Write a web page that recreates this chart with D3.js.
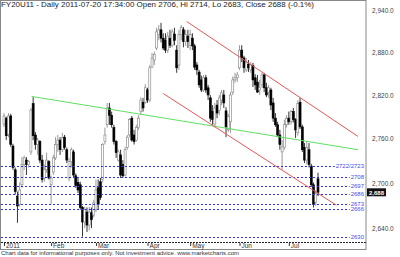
<!DOCTYPE html>
<html>
<head>
<meta charset="utf-8">
<script src="https://cdn.jsdelivr.net/npm/d3@7"></script>
<style>
  body { margin: 0; background: #fff; }
  svg { display: block; font-family: "Liberation Sans", Arial, sans-serif; }
</style>
</head>
<body>
<div id="chart"></div>
<script>
// Daily OHLC, 2011-01-03 .. 2011-07-20 (one entry per trading day)
const open = [
  2780,2788,2766,2791,2750,2718,2683,2672,2698,2725,
  2731,2725,2742,2808,2765,2752,2756,2731,2707,2718,
  2729,2698,2715,2734,2752,2758,2745,2762,2745,2707,
  2729,2742,2710,2701,2698,2668,2649,2662,2645,2661,
  2658,2665,2694,2702,2705,2756,2779,2802,2792,2775,
  2756,2731,2738,2725,2711,2748,2765,2788,2765,2758,
  2775,2797,2810,2810,2827,2813,2859,2869,2886,2905,
  2912,2900,2897,2883,2900,2890,2906,2883,2862,2905,
  2912,2895,2903,2890,2900,2889,2862,2852,2841,2827,
  2844,2830,2816,2797,2780,2806,2799,2813,2820,2798,
  2772,2783,2824,2841,2844,2858,2883,2872,2855,2863,
  2855,2861,2844,2838,2827,2834,2848,2830,2824,2827,
  2809,2788,2779,2765,2742,2748,2779,2788,2783,2797,
  2786,2768,2810,2776,2748,2731,2745,2723,2698,2675,
  2706
];
const high = [
  2795,2790,2795,2794,2753,2721,2689,2701,2735,2737,
  2735,2731,2802,2817,2769,2761,2758,2738,2725,2741,
  2731,2710,2738,2762,2765,2762,2768,2765,2748,2734,
  2748,2745,2713,2707,2702,2670,2669,2668,2669,2668,
  2678,2705,2705,2707,2754,2775,2809,2809,2797,2779,
  2758,2745,2745,2731,2749,2765,2788,2791,2772,2779,
  2792,2817,2816,2835,2830,2862,2879,2881,2915,2919,
  2922,2907,2907,2909,2912,2913,2915,2890,2912,2919,
  2916,2912,2912,2912,2907,2892,2866,2855,2847,2848,
  2848,2834,2820,2806,2809,2813,2820,2827,2827,2803,
  2794,2824,2846,2851,2852,2890,2890,2875,2872,2869,
  2866,2865,2849,2848,2841,2851,2851,2837,2834,2830,
  2816,2795,2783,2772,2758,2786,2792,2797,2799,2802,
  2788,2813,2816,2779,2754,2756,2754,2726,2701,2691,
  2714
];
const low = [
  2776,2758,2762,2749,2718,2685,2648,2669,2694,2718,
  2711,2721,2738,2758,2745,2738,2727,2701,2702,2714,
  2705,2672,2711,2731,2742,2738,2742,2745,2727,2703,
  2721,2707,2694,2687,2665,2630,2641,2636,2638,2641,
  2655,2662,2665,2678,2701,2752,2775,2779,2775,2752,
  2734,2729,2707,2707,2709,2745,2762,2756,2752,2756,
  2772,2792,2797,2808,2809,2810,2858,2862,2883,2897,
  2894,2883,2879,2879,2886,2887,2890,2851,2855,2897,
  2887,2889,2886,2883,2883,2855,2848,2830,2824,2824,
  2823,2813,2783,2779,2775,2788,2792,2806,2802,2762,
  2769,2768,2820,2837,2838,2855,2866,2851,2852,2852,
  2851,2831,2827,2823,2820,2830,2824,2817,2816,2799,
  2783,2776,2762,2745,2718,2745,2775,2779,2779,2782,
  2761,2764,2773,2742,2727,2725,2721,2695,2668,2670,
  2683
];
const close = [
  2791,2764,2791,2752,2721,2689,2670,2691,2725,2734,
  2725,2729,2799,2764,2752,2758,2731,2705,2718,2731,
  2707,2707,2734,2752,2758,2745,2761,2748,2731,2729,
  2745,2711,2697,2691,2668,2649,2665,2645,2662,2652,
  2674,2691,2672,2681,2752,2765,2802,2792,2779,2756,
  2741,2742,2711,2710,2745,2762,2786,2758,2756,2775,
  2788,2813,2802,2830,2813,2858,2872,2877,2909,2912,
  2900,2886,2883,2903,2890,2909,2897,2858,2905,2915,
  2895,2905,2895,2905,2889,2859,2855,2834,2827,2844,
  2827,2820,2788,2786,2802,2795,2816,2823,2809,2776,
  2790,2820,2841,2844,2848,2883,2872,2858,2865,2858,
  2862,2841,2834,2824,2830,2848,2830,2820,2830,2806,
  2788,2779,2765,2752,2749,2779,2788,2783,2797,2786,
  2772,2808,2776,2745,2731,2748,2725,2698,2672,2686,
  2688
];

// month starts (index of first trading day) and their labels
const monthIdx = [0, 21, 41, 64, 83, 105, 127];
const monthLabels = ['2011', 'Feb', 'Mar', 'Apr', 'May', 'Jun', 'Jul'];

// right axis ticks
const priceTicks = [2640, 2700, 2760, 2820, 2880, 2940];

// horizontal support levels
const levels = [2723, 2708, 2697, 2686, 2673, 2666, 2630];
const levelLabels = ['2722/2723', '2708', '2697', '2686', '2673', '2666', '2630'];

// trend lines: [index, price] endpoints
const greenLine = [[12.3, 2818], [157.8, 2745]];
const redUpper = [[81.4, 2924], [157.8, 2763]];
const redLower = [[71.0, 2822], [148.2, 2671]];

const lastPrice = 2688;
const title = 'FY20U11 - Daily 2011-07-20 17:34:00 Open 2706, Hi 2714, Lo 2683, Close 2688 (-0.1%)';
const footer = 'Chart data for informational purposes only. Not investment advice. www.marketcharts.com';

const width = 400, height = 257;
const plotLeft = 1, plotRight = 366, plotBottom = 242;

const svg = d3.select('#chart')
  .append('svg')
  .attr('width', width)
  .attr('height', height);

// Scales
const x = d3.scaleLinear().domain([0, 140]).range([4, 318]);
const y = d3.scaleLog().domain([2623, 2942]).range([plotBottom, 9]);

// Frame
svg.append('rect')
  .attr('x', 0.5).attr('y', 0.5)
  .attr('width', plotRight - 0.5).attr('height', 249)
  .attr('fill', 'none')
  .attr('stroke', '#888');

svg.append('line')
  .attr('x1', plotLeft).attr('x2', plotRight)
  .attr('y1', plotBottom + 0.5).attr('y2', plotBottom + 0.5)
  .attr('stroke', '#223')
  .attr('stroke-dasharray', '2,1');

// Candles
const data = close.map((c, i) => ({ i, o: open[i], h: high[i], l: low[i], c }));
const up = d => d.c >= d.o;

const candles = svg.append('g')
  .selectAll('g')
  .data(data)
  .join('g');

candles.append('line')
  .attr('x1', d => x(d.i)).attr('x2', d => x(d.i))
  .attr('y1', d => y(d.h)).attr('y2', d => y(d.l))
  .attr('stroke', d => up(d) ? '#808080' : '#000')
  .attr('stroke-width', 0.8);

candles.append('rect')
  .attr('x', d => x(d.i) - 1)
  .attr('width', 2)
  .attr('y', d => y(Math.max(d.o, d.c)))
  .attr('height', d => Math.max(0.8, y(Math.min(d.o, d.c)) - y(Math.max(d.o, d.c))))
  .attr('fill', d => up(d) ? '#fff' : '#000')
  .attr('stroke', d => up(d) ? '#808080' : '#000')
  .attr('stroke-width', 0.6);

// Levels
const lv = svg.append('g')
  .selectAll('g')
  .data(levels)
  .join('g');

const lvText = lv.append('text')
  .attr('x', plotRight - 2)
  .attr('y', d => y(d) + 2)
  .attr('text-anchor', 'end')
  .attr('font-size', 6)
  .attr('fill', '#4b4bdc')
  .text((d, k) => levelLabels[k]);

lv.insert('line', 'text')
  .attr('x1', plotLeft)
  .attr('x2', function(d, k) { return plotRight - 3 - lvText.nodes()[k].getComputedTextLength(); })
  .attr('y1', d => Math.round(y(d)) + 0.5)
  .attr('y2', d => Math.round(y(d)) + 0.5)
  .attr('stroke', '#3434c8')
  .attr('stroke-width', 1)
  .attr('stroke-dasharray', '2,2');

// Trend lines
const trend = d3.line().x(d => x(d[0])).y(d => y(d[1]));
svg.append('path').attr('d', trend(greenLine))
  .attr('fill', 'none').attr('stroke', '#5fe05f').attr('stroke-width', 1);
svg.append('path').attr('d', trend(redUpper))
  .attr('fill', 'none').attr('stroke', '#e05a5a').attr('stroke-width', 1);
svg.append('path').attr('d', trend(redLower))
  .attr('fill', 'none').attr('stroke', '#e05a5a').attr('stroke-width', 1);

// Axes
const xAxis = d3.axisBottom(x)
  .tickValues(monthIdx)
  .tickFormat((d, k) => monthLabels[k])
  .tickSize(3)
  .tickPadding(0);

const xAxisDraw = svg.append('g')
  .attr('transform', `translate(0,${plotBottom + 1})`)
  .call(xAxis);
xAxisDraw.select('.domain').remove();
xAxisDraw.selectAll('line').attr('stroke', '#333');
xAxisDraw.selectAll('text')
  .attr('text-anchor', 'start')
  .attr('x', 1.5)
  .attr('y', 0)
  .attr('dy', '0.78em')
  .attr('font-size', 6.5)
  .attr('font-family', '"Liberation Sans", Arial, sans-serif')
  .attr('fill', '#333');

const yAxis = d3.axisRight(y)
  .tickValues(priceTicks)
  .tickFormat(d3.format(',.1f'))
  .tickSize(0)
  .tickPadding(0);

const yAxisDraw = svg.append('g')
  .attr('transform', `translate(372,0)`)
  .call(yAxis);
yAxisDraw.select('.domain').remove();
yAxisDraw.selectAll('text')
  .attr('font-size', 6.5)
  .attr('font-family', '"Liberation Sans", Arial, sans-serif')
  .attr('fill', '#444');

// Last price tag
const ly = y(lastPrice);
svg.append('rect')
  .attr('x', 367).attr('y', ly - 4)
  .attr('width', 19).attr('height', 8)
  .attr('fill', '#111');
svg.append('text')
  .attr('x', 376.5).attr('y', ly + 2.2)
  .attr('text-anchor', 'middle')
  .attr('font-size', 6)
  .attr('font-weight', 'bold')
  .attr('fill', '#fff')
  .text(d3.format(',')(lastPrice));

// Header and footer
svg.append('text')
  .attr('x', 1).attr('y', 7)
  .attr('font-size', 7)
  .attr('fill', '#222')
  .attr('textLength', 313)
  .attr('lengthAdjust', 'spacingAndGlyphs')
  .text(title);

svg.append('text')
  .attr('x', 1).attr('y', 255)
  .attr('font-size', 5)
  .attr('fill', '#333')
  .attr('textLength', 238)
  .attr('lengthAdjust', 'spacingAndGlyphs')
  .text(footer);
</script>
</body>
</html>
